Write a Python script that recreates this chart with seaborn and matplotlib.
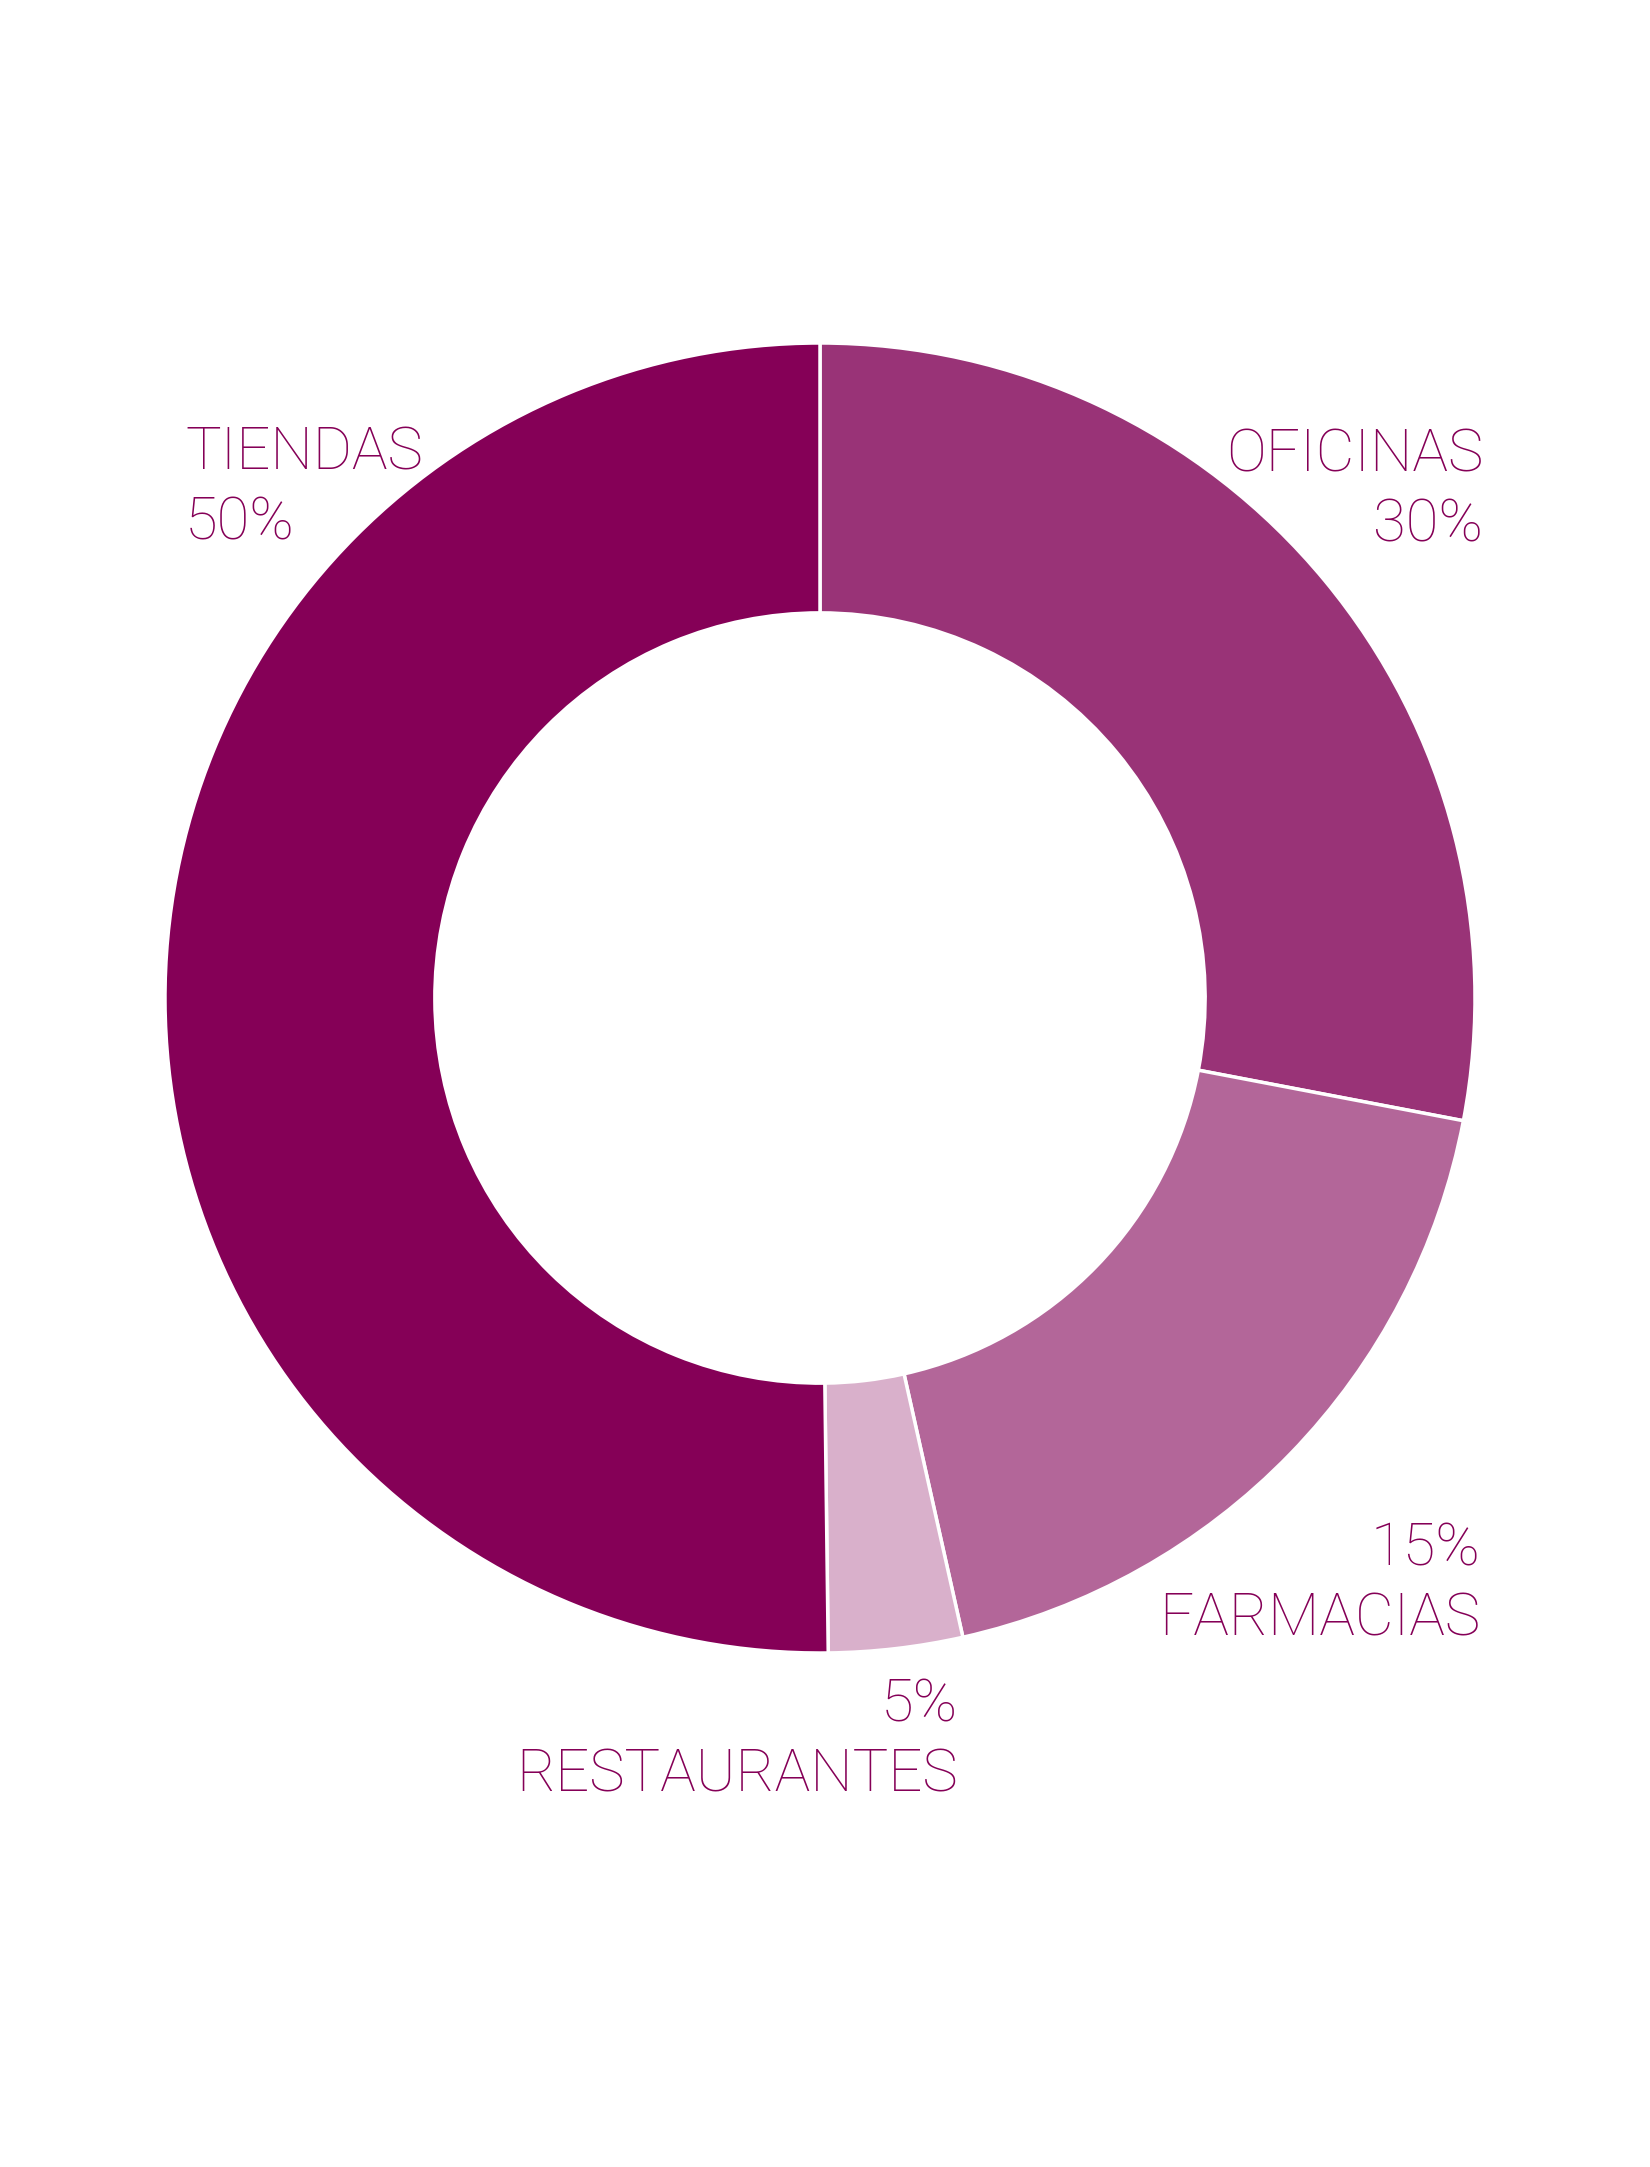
import matplotlib
matplotlib.use("Agg")
import matplotlib.pyplot as plt
import seaborn as sns

# slice order: clockwise from the top
labels = ["OFICINAS", "FARMACIAS", "RESTAURANTES", "TIENDAS"]
shares = [28.0, 18.5, 3.3, 50.2]
pct_text = ["30%", "15%", "5%", "50%"]
colors = ["#993377", "#B36699", "#D9B0CB", "#850057"]
text_color = "#850057"

sns.set_theme(style="white")
plt.rcParams["font.family"] = ["Roboto", "DejaVu Sans"]

W, H = 1650, 2167
fig = plt.figure(figsize=(W / 100, H / 100), dpi=100)
fig.patch.set_facecolor("white")

# donut centre at (820, 998) px, outer radius 655 px
cx, cy, r = 820, 998, 655
ax = fig.add_axes([(cx - r) / W, 1 - (cy + r) / H, 2 * r / W, 2 * r / H])
ax.pie(shares, colors=colors, startangle=90, counterclock=False,
       radius=1, wedgeprops=dict(width=0.412, edgecolor="white", linewidth=2.5))
ax.set_xlim(-1, 1)
ax.set_ylim(-1, 1)
ax.set_aspect("equal")
ax.axis("off")

fs = 43
def put(txt, x, y, ha):
    fig.text(x / W, 1 - y / H, txt, ha=ha, va="baseline", fontsize=fs,
             color=text_color, fontweight="light")

# TIENDAS (top left)
put(labels[3], 185, 470, "left")
put(pct_text[3], 185, 539, "left")
# OFICINAS (top right)
put(labels[0], 1483, 471, "right")
put(pct_text[0], 1483, 542, "right")
# FARMACIAS (bottom right)
put(pct_text[1], 1480, 1565, "right")
put(labels[1], 1480, 1635, "right")
# RESTAURANTES (bottom)
put(pct_text[2], 958, 1722, "right")
put(labels[2], 958, 1791, "right")

fig.savefig("out.png", dpi=100, facecolor="white")
